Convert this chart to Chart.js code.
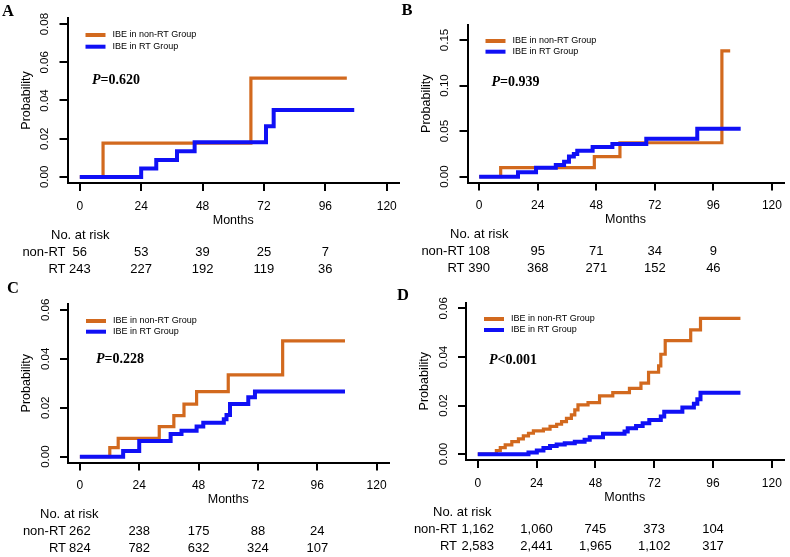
<!DOCTYPE html>
<html>
<head>
<meta charset="utf-8">
<script src="https://cdn.jsdelivr.net/npm/chart.js@4.4.0/dist/chart.umd.min.js"></script>
<style>
html, body { margin: 0; padding: 0; background: #fff; }
#wrap { position: relative; width: 790px; height: 557px; overflow: hidden; }
#wrap canvas { position: absolute; left: 0; top: 0; }
</style>
</head>
<body>
<div id="wrap">
  <canvas id="panelA" width="790" height="557"></canvas>
  <canvas id="panelB" width="790" height="557"></canvas>
  <canvas id="panelC" width="790" height="557"></canvas>
  <canvas id="panelD" width="790" height="557"></canvas>
</div>
<script>
// shared axis values
const xTicks = [0, 24, 48, 72, 96, 120];
const riskTimes = [0, 24, 48, 72, 96];
const seriesLabels = ['IBE in non-RT Group', 'IBE in RT Group'];

// panel A
const aNonRtTime = [0, 9.1, 66.9, 104.4];
const aNonRtProb = [0, 0.0177, 0.0517, 0.0517];
const aRtTime = [0, 24, 29.9, 38, 44.9, 72.8, 75.8, 107.3];
const aRtProb = [0, 0.0044, 0.0088, 0.0134, 0.0182, 0.0265, 0.035, 0.035];
const aYTicks = [0, 0.02, 0.04, 0.06, 0.08];
const aRiskNonRt = [56, 53, 39, 25, 7];
const aRiskRt = [243, 227, 192, 119, 36];

// panel B
const bNonRtTime = [0, 8.8, 47.2, 57.7, 99.5, 102.9];
const bNonRtProb = [0, 0.0099, 0.022, 0.0372, 0.138, 0.138];
const bRtTime = [0, 15.9, 23.3, 31.4, 34.8, 36.8, 38.8, 40.2, 46.5, 54.6, 68.5, 89.4, 107.2];
const bRtProb = [0, 0.0048, 0.0099, 0.0128, 0.0165, 0.022, 0.0249, 0.0285, 0.0326, 0.0359, 0.0417, 0.0527, 0.0527];
const bYTicks = [0, 0.05, 0.10, 0.15];
const bRiskNonRt = [108, 95, 71, 34, 9];
const bRiskRt = [390, 368, 271, 152, 46];

// panel C
const cNonRtTime = [0, 12.1, 15.5, 32.1, 38, 42.1, 47.2, 60, 82, 107.2];
const cNonRtProb = [0, 0.0037, 0.0075, 0.0123, 0.0168, 0.0215, 0.0266, 0.0334, 0.0473, 0.0473];
const cRtTime = [0, 17.5, 24, 36.7, 41.1, 47.2, 49.9, 58.2, 59.3, 60.7, 68.1, 70.8, 107.2];
const cRtProb = [0, 0.0023, 0.0064, 0.0093, 0.0106, 0.0123, 0.0139, 0.0153, 0.017, 0.0215, 0.0243, 0.0266, 0.0266];
const cYTicks = [0, 0.02, 0.04, 0.06];
const cRiskNonRt = [262, 238, 175, 88, 24];
const cRiskRt = [824, 782, 632, 324, 107];

// panel D
const dNonRtTime = [0, 7.6, 9.2, 11.2, 13.9, 16.6, 18.6, 20.7, 22.7, 26.8, 29.5, 32.2, 34.2, 36.2, 38.2, 39.6, 40.9, 45, 49.7, 55.1, 61.9, 66.6, 69.7, 73.8, 74.7, 76.5, 86.9, 90.9, 107.2];
const dNonRtProb = [0, 0.0015, 0.0027, 0.0038, 0.0052, 0.0063, 0.0075, 0.0086, 0.0096, 0.0103, 0.0114, 0.0123, 0.0134, 0.0147, 0.0162, 0.0182, 0.0203, 0.0212, 0.024, 0.0253, 0.0271, 0.0292, 0.0337, 0.0363, 0.0411, 0.0467, 0.0511, 0.0559, 0.0559];
const dRtTime = [0, 20.7, 24.1, 26.8, 29.5, 32.2, 35.5, 39.6, 43.6, 45.7, 51.1, 59.9, 61.2, 64.6, 67.3, 70, 74.7, 76.1, 83.5, 88.2, 89.6, 90.9, 107.2];
const dRtProb = [0, 0.0007, 0.0015, 0.0025, 0.0034, 0.004, 0.0045, 0.0051, 0.0059, 0.007, 0.0084, 0.0093, 0.0107, 0.0116, 0.0127, 0.0141, 0.0155, 0.0175, 0.0192, 0.0207, 0.0226, 0.0253, 0.0253];
const dYTicks = [0, 0.02, 0.04, 0.06];
const dRiskNonRt = [1162, 1060, 745, 373, 104];
const dRiskRt = [2583, 2441, 1965, 1102, 317];

const ORANGE = '#D2691E';
const BLUE = '#1010F5';
const SANS = "'Liberation Sans', Arial, sans-serif";
const SERIF = "'Liberation Serif', 'Times New Roman', serif";
const W = 790, H = 557;
const Y_AXIS_W = 50, X_AXIS_H = 45;

Chart.defaults.font.family = SANS;

const toSteps = (times, probs) => times.map((t, i) => ({ x: t, y: probs[i] }));

// letter, legend, p-value and number-at-risk table
const kmDecor = {
    id: 'kmDecor',
    afterDraw(chart, args, o) {
        const ctx = chart.ctx;
        const area = chart.chartArea;
        const xs = chart.scales.x;
        ctx.save();
        ctx.fillStyle = '#000';

        ctx.font = 'bold 16.5px ' + SERIF;
        ctx.textAlign = 'left';
        ctx.textBaseline = 'alphabetic';
        ctx.fillText(o.letter, o.letterPos[0], o.letterPos[1]);

        ctx.font = '9px ' + SANS;
        ctx.textBaseline = 'middle';
        chart.data.datasets.forEach((ds, i) => {
            const y = area.top + o.legendY[i];
            ctx.strokeStyle = ds.borderColor;
            ctx.lineWidth = 4;
            ctx.beginPath();
            ctx.moveTo(area.left + 18, y);
            ctx.lineTo(area.left + 38, y);
            ctx.stroke();
            ctx.fillText(ds.label, area.left + 45, y);
        });

        let px = area.left + o.pPos[0];
        const py = area.top + o.pPos[1];
        ctx.font = 'italic bold 14px ' + SERIF;
        ctx.fillText('P', px, py);
        px += ctx.measureText('P').width;
        ctx.font = 'bold 14px ' + SERIF;
        ctx.fillText(o.pText, px, py);

        ctx.font = '13px ' + SANS;
        ctx.fillText('No. at risk', area.left + o.riskLabelX, area.bottom + 52);
        ctx.textAlign = 'right';
        ctx.fillText('non-RT', area.left + o.rowLabelX, area.bottom + 69);
        ctx.fillText('RT', area.left + o.rowLabelX, area.bottom + 86);
        ctx.textAlign = 'center';
        riskTimes.forEach((t, i) => {
            const x = xs.getPixelForValue(t);
            ctx.fillText(o.riskNonRt[i].toLocaleString('en-US'), x, area.bottom + 69);
            ctx.fillText(o.riskRt[i].toLocaleString('en-US'), x, area.bottom + 86);
        });
        ctx.restore();
    }
};

const makePanel = (p) => {
    const axisLine = { display: true, color: '#000', width: 2 };
    const tickMarks = { display: true, drawOnChartArea: false, drawTicks: true, tickLength: 8, color: '#000', lineWidth: 2 };

    new Chart(document.getElementById(p.canvas), {
        type: 'line',
        data: {
            datasets: [{
                label: seriesLabels[0],
                data: toSteps(p.nonRtTime, p.nonRtProb),
                borderColor: ORANGE,
                borderWidth: 3.2,
                stepped: true,
                pointRadius: 0,
                fill: false,
                order: 2
            }, {
                label: seriesLabels[1],
                data: toSteps(p.rtTime, p.rtProb),
                borderColor: BLUE,
                borderWidth: 4,
                stepped: true,
                pointRadius: 0,
                fill: false,
                order: 1
            }]
        },
        options: {
            responsive: false,
            animation: false,
            devicePixelRatio: 1,
            layout: {
                padding: {
                    left: p.area.left - Y_AXIS_W,
                    right: W - p.area.right,
                    top: p.area.top,
                    bottom: H - p.area.bottom - X_AXIS_H
                }
            },
            plugins: {
                legend: { display: false },
                tooltip: { enabled: false },
                kmDecor: p
            },
            scales: {
                x: {
                    type: 'linear',
                    min: -4.8,
                    max: 124.8,
                    afterBuildTicks: (s) => { s.ticks = xTicks.map((v) => ({ value: v })); },
                    afterFit: (s) => { s.height = X_AXIS_H; },
                    border: axisLine,
                    grid: tickMarks,
                    ticks: { color: '#000', font: { size: 12 }, padding: 8, autoSkip: false, minRotation: 0, maxRotation: 0, callback: (v) => String(v) },
                    title: { display: true, text: 'Months', color: '#000', font: { size: 12.5 }, padding: 0 }
                },
                y: {
                    type: 'linear',
                    min: p.yMin,
                    max: p.yMax,
                    afterBuildTicks: (s) => { s.ticks = p.yTicks.map((v) => ({ value: v })); },
                    afterFit: (s) => { s.width = Y_AXIS_W; },
                    border: axisLine,
                    grid: tickMarks,
                    ticks: { color: '#000', font: { size: 11.5 }, padding: 3, crossAlign: 'center', minRotation: 90, maxRotation: 90, autoSkip: false, callback: (v) => v.toFixed(2) },
                    title: { display: true, text: 'Probability', color: '#000', font: { size: 12.5 }, padding: { top: 1.5, bottom: 0 } }
                }
            }
        },
        plugins: [kmDecor]
    });
};

makePanel({
    canvas: 'panelA', letter: 'A', letterPos: [2, 15.5],
    area: { left: 67.5, right: 399, top: 18, bottom: 183 },
    yMin: -0.0032, yMax: 0.0832, yTicks: aYTicks,
    nonRtTime: aNonRtTime, nonRtProb: aNonRtProb, rtTime: aRtTime, rtProb: aRtProb,
    legendY: [17, 28.7], pPos: [24.5, 62], pText: '=0.620',
    riskNonRt: aRiskNonRt, riskRt: aRiskRt, riskLabelX: -16.5, rowLabelX: -2
});

makePanel({
    canvas: 'panelB', letter: 'B', letterPos: [401.5, 15],
    area: { left: 467.5, right: 787.5, top: 25, bottom: 182.5 },
    yMin: -0.0064, yMax: 0.1664, yTicks: bYTicks,
    nonRtTime: bNonRtTime, nonRtProb: bNonRtProb, rtTime: bRtTime, rtProb: bRtProb,
    legendY: [16, 26.7], pPos: [24, 57], pText: '=0.939',
    riskNonRt: bRiskNonRt, riskRt: bRiskRt, riskLabelX: -17.5, rowLabelX: -3
});

makePanel({
    canvas: 'panelC', letter: 'C', letterPos: [7, 293],
    area: { left: 68, right: 388.5, top: 304, bottom: 462.5 },
    yMin: -0.0024, yMax: 0.0624, yTicks: cYTicks,
    nonRtTime: cNonRtTime, nonRtProb: cNonRtProb, rtTime: cRtTime, rtProb: cRtProb,
    legendY: [17, 27.7], pPos: [28, 55], pText: '=0.228',
    riskNonRt: cRiskNonRt, riskRt: cRiskRt, riskLabelX: -28, rowLabelX: -2
});

makePanel({
    canvas: 'panelD', letter: 'D', letterPos: [397, 300],
    area: { left: 466, right: 785, top: 302.5, bottom: 460 },
    yMin: -0.0024, yMax: 0.0624, yTicks: dYTicks,
    nonRtTime: dNonRtTime, nonRtProb: dNonRtProb, rtTime: dRtTime, rtProb: dRtProb,
    legendY: [16.5, 27.5], pPos: [23, 58], pText: '<0.001',
    riskNonRt: dRiskNonRt, riskRt: dRiskRt, riskLabelX: -33, rowLabelX: -9
});
</script>
</body>
</html>
